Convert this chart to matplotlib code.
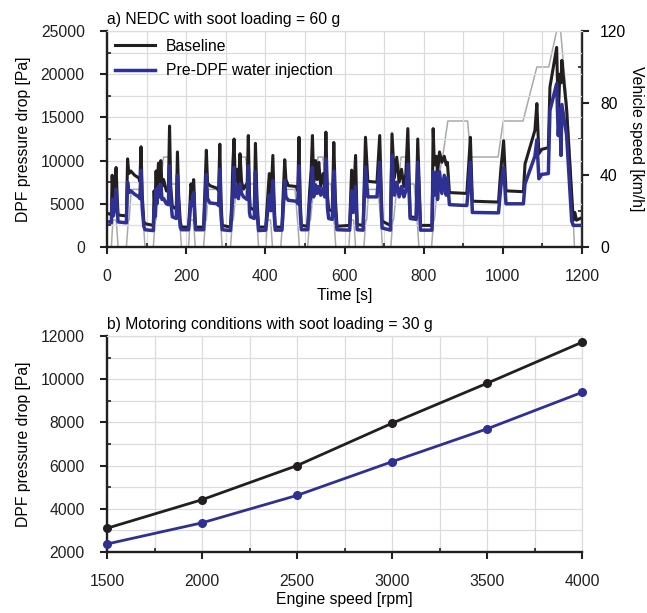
import matplotlib
matplotlib.use("Agg")
import matplotlib.pyplot as plt
from matplotlib.ticker import MultipleLocator

FS = 11.3
plt.rcParams['font.family'] = ['Liberation Sans', 'DejaVu Sans']
plt.rcParams['font.size'] = FS

# ---------------- data: (a) NEDC ----------------
# vehicle speed trace [km/h] (breakpoints)
speed_t = [0, 11, 15, 23, 25, 28, 49, 54, 56, 61, 85, 93, 96, 117, 122, 124, 133, 135, 143, 155, 163, 176, 185, 188,
           206, 210, 218, 220, 223, 244, 249, 251, 256, 280, 288, 291, 312, 317, 319, 328, 330, 338, 350, 358, 371, 380, 383,
           401, 405, 413, 415, 418, 439, 444, 446, 451, 475, 483, 486, 507, 512, 514, 523, 525, 533, 545, 553, 566, 575, 578,
           611, 615, 623, 625, 628, 649, 654, 656, 661, 685, 693, 696, 717, 722, 724, 733, 735, 743, 755, 763, 776, 785, 788,
           820, 825, 827, 836, 838, 846, 848, 861, 911, 919, 988, 1001, 1051, 1086, 1116, 1136, 1146, 1162, 1170, 1181, 1200]
speed_v = [0, 0, 15, 15, 10, 0, 0, 15, 15, 32, 32, 10, 0, 0, 15, 15, 35, 35, 50, 50, 35, 35, 10, 0,
           0, 15, 15, 10, 0, 0, 15, 15, 32, 32, 10, 0, 0, 15, 15, 35, 35, 50, 50, 35, 35, 10, 0,
           0, 15, 15, 10, 0, 0, 15, 15, 32, 32, 10, 0, 0, 15, 15, 35, 35, 50, 50, 35, 35, 10, 0,
           0, 15, 15, 10, 0, 0, 15, 15, 32, 32, 10, 0, 0, 15, 15, 35, 35, 50, 50, 35, 35, 10, 0,
           0, 15, 15, 35, 35, 50, 50, 70, 70, 50, 50, 70, 70, 100, 100, 120, 120, 80, 50, 0, 0]

# DPF pressure drop [Pa]: time breakpoints, baseline, pre-DPF water injection
p_t = [0, 8, 11, 13, 16, 19, 23, 26, 28, 49, 52, 55, 60, 70, 80, 83, 86, 89, 93, 96, 117,
       119, 121, 124, 126, 130, 133, 136, 139, 143, 150, 155, 158, 161, 165, 175, 178, 181, 185, 188,
       206, 209, 212, 215, 219, 222, 224, 244, 247, 251, 254, 260, 278, 282, 285, 288, 291, 312,
       315, 318, 321, 324, 328, 332, 336, 340, 345, 351, 354, 357, 360, 362, 372, 375, 379, 383,
       401, 405, 410, 414, 419, 422, 425, 442, 445, 449, 452, 458, 478, 482, 485, 488, 491, 507,
       512, 516, 519, 522, 527, 531, 535, 540, 546, 550, 553, 557, 560, 569, 573, 577, 581,
       613, 618, 622, 628, 632, 647, 653, 659, 682, 689, 695, 716, 720, 726, 732, 738, 744, 750, 755, 760, 766, 781, 785, 792,
       821, 824, 827, 832, 835, 840, 846, 852, 857, 860, 865, 909, 913, 918, 923, 989, 995, 1002, 1008, 1052,
       1056, 1081, 1086, 1091, 1098, 1115, 1119, 1136, 1140, 1144, 1147, 1149, 1161, 1174, 1178, 1182, 1186, 1195]
p_base = [3900, 3800, 3700, 8300, 5000, 7000, 9200, 5500, 3700, 3600, 10200, 8500, 8800, 8300, 8000, 7600, 11600, 6000, 3000, 2700, 2500,
          6500, 4500, 8800, 6500, 9700, 7500, 10000, 7000, 7800, 6500, 6400, 14000, 7000, 4700, 4400, 11000, 6000, 3000, 2300,
          2300, 4500, 7300, 6500, 7800, 4000, 2300, 2300, 6000, 11200, 7400, 7100, 6800, 6500, 11900, 5500, 2500, 2300,
          5000, 9600, 12500, 7500, 9000, 7200, 10800, 7500, 6700, 7200, 7000, 12900, 6000, 4500, 4300, 12000, 5500, 2300,
          2300, 5000, 8500, 5500, 10600, 5500, 2300, 2300, 6000, 10100, 7800, 7100, 7000, 6500, 12700, 5500, 2500, 2400,
          6500, 9000, 12900, 7500, 10000, 7800, 9800, 7000, 8500, 7000, 13300, 6000, 4300, 4200, 12100, 5500, 2400,
          2500, 8900, 5000, 10600, 2600, 2500, 12700, 7600, 7500, 12900, 3000, 2500, 13100, 8000, 10400, 7500, 9000, 7000, 8500, 13700, 3500, 3400, 12500, 2500,
          2500, 13700, 9500, 10500, 8500, 11000, 9800, 10500, 9500, 9800, 6300, 6200, 9000, 12700, 5300, 5200, 9000, 12300, 6500, 6400,
          9600, 13500, 16600, 10800, 11300, 11500, 18500, 23100, 15000, 20000, 19000, 21600, 16000, 6000, 3100, 4000, 3100, 3300]
p_water = [2900, 2900, 2800, 5500, 3600, 4500, 6700, 4200, 2900, 2800, 7500, 6300, 6500, 6100, 5800, 5600, 8900, 4500, 2400, 2000, 1900,
           4500, 3500, 6700, 5000, 7000, 5800, 7200, 5500, 5600, 5000, 4900, 9400, 5500, 3500, 3300, 8300, 4500, 2300, 2000,
           2000, 3500, 5300, 4800, 6300, 3000, 2000, 2000, 4500, 8400, 5600, 5100, 5000, 4800, 9000, 4000, 2000, 1900,
           3800, 6200, 9200, 5800, 7000, 5600, 7300, 6200, 5800, 5600, 5500, 9400, 4000, 3500, 3300, 8700, 4000, 1900,
           1950, 3800, 6000, 4200, 7700, 4000, 1950, 1950, 4500, 7700, 5800, 5400, 5300, 5000, 9400, 4000, 2000, 2000,
           5000, 6500, 9200, 5800, 7200, 6200, 7000, 6000, 6800, 5800, 10200, 4500, 3300, 3200, 8800, 4000, 2000,
           1950, 6500, 4000, 7000, 2000, 1950, 9250, 5800, 5800, 9800, 2200, 1950, 10600, 6000, 7500, 5800, 7000, 5800, 6500, 9600, 3300, 3200, 9800, 1950,
           1950, 8700, 6000, 8700, 5500, 8700, 6200, 8300, 6000, 8000, 4900, 4800, 6800, 9800, 4000, 3950, 7000, 9200, 5000, 5000,
           7300, 10500, 12400, 7900, 8400, 8500, 15800, 18900, 12900, 16000, 10600, 16500, 13000, 3000, 2500, 2500, 2500, 2500]

# ---------------- data: (b) motoring ----------------
engine_speed = [1500, 2000, 2500, 3000, 3500, 4000]
motoring_base = [3100, 4420, 6000, 7960, 9810, 11710]
motoring_water = [2370, 3350, 4620, 6180, 7700, 9390]

C_BLACK = '#231f20'
C_BLUE = '#2e3192'
C_GRAY = '#a9a9a9'
C_GRID = '#dcdcdc'

fig = plt.figure(figsize=(6.47, 6.13), dpi=100)
axA = fig.add_axes([107/647, 1-247/613, 475/647, 216/613])
axB = fig.add_axes([107/647, 1-552/613, 475/647, 216/613])


def style_axis(ax):
    ax.grid(True, which='both', color=C_GRID, lw=0.9)
    ax.set_axisbelow(True)
    for s in ['top', 'right']:
        ax.spines[s].set_color(C_GRID)
        ax.spines[s].set_linewidth(0.9)
    for s in ['left', 'bottom']:
        ax.spines[s].set_color(C_BLACK)
        ax.spines[s].set_linewidth(1.7)
    ax.tick_params(which='major', direction='out', length=5, width=1.5, color=C_BLACK, pad=11,
                   labelsize=FS, labelcolor='#231f20')
    ax.tick_params(which='minor', direction='in', length=3, width=1.2, color=C_BLACK)


# ----- panel a -----
axS = axA.twinx()
axA.set_zorder(axS.get_zorder() + 1)
axA.patch.set_visible(False)
axS.plot(speed_t, speed_v, color=C_GRAY, lw=1.1)
axS.set_ylim(0, 120)
axS.yaxis.set_major_locator(MultipleLocator(40))
axS.yaxis.set_minor_locator(MultipleLocator(20))
axS.spines['right'].set_color(C_BLACK)
axS.spines['right'].set_linewidth(1.7)
for s in ['top', 'left', 'bottom']:
    axS.spines[s].set_visible(False)
axS.tick_params(which='major', direction='out', length=5, width=1.5, color=C_BLACK, pad=8, labelsize=FS)
axS.tick_params(which='minor', direction='in', length=3, width=1.2, color=C_BLACK)
axS.set_ylabel('Vehicle speed [km/h]', rotation=270, labelpad=2, fontsize=FS, va='bottom')

axA.plot(p_t, p_base, color=C_BLACK, lw=2.2, label='Baseline')
axA.plot(p_t, p_water, color=C_BLUE, lw=2.5, label='Pre-DPF water injection')
axA.set_xlim(0, 1200)
axA.set_ylim(0, 25000)
axA.xaxis.set_major_locator(MultipleLocator(200))
axA.xaxis.set_minor_locator(MultipleLocator(100))
axA.yaxis.set_major_locator(MultipleLocator(5000))
axA.yaxis.set_minor_locator(MultipleLocator(2500))
style_axis(axA)
axA.spines['right'].set_visible(False)
axA.set_xlabel('Time [s]', labelpad=3)
axA.set_ylabel('DPF pressure drop [Pa]', labelpad=7)
axA.legend(loc='upper left', frameon=False, handlelength=2.55, handletextpad=0.7,
           labelspacing=0.6, borderaxespad=0.1, fontsize=FS)
axA.set_title('a) NEDC with soot loading = 60 g', loc='left', pad=5, fontsize=FS)

# ----- panel b -----
axB.plot(engine_speed, motoring_base, color=C_BLACK, lw=2.0, marker='o', ms=5.5, clip_on=False, zorder=3)
axB.plot(engine_speed, motoring_water, color=C_BLUE, lw=2.0, marker='o', ms=5.5, clip_on=False, zorder=3)
axB.set_xlim(1500, 4000)
axB.set_ylim(2000, 12000)
axB.xaxis.set_major_locator(MultipleLocator(500))
axB.xaxis.set_minor_locator(MultipleLocator(250))
axB.yaxis.set_major_locator(MultipleLocator(2000))
axB.yaxis.set_minor_locator(MultipleLocator(1000))
style_axis(axB)
axB.set_xlabel('Engine speed [rpm]', labelpad=2)
axB.set_ylabel('DPF pressure drop [Pa]', labelpad=7)
axB.set_title('b) Motoring conditions with soot loading = 30 g', loc='left', pad=5, fontsize=FS)

fig.savefig('out.png', dpi=100)
